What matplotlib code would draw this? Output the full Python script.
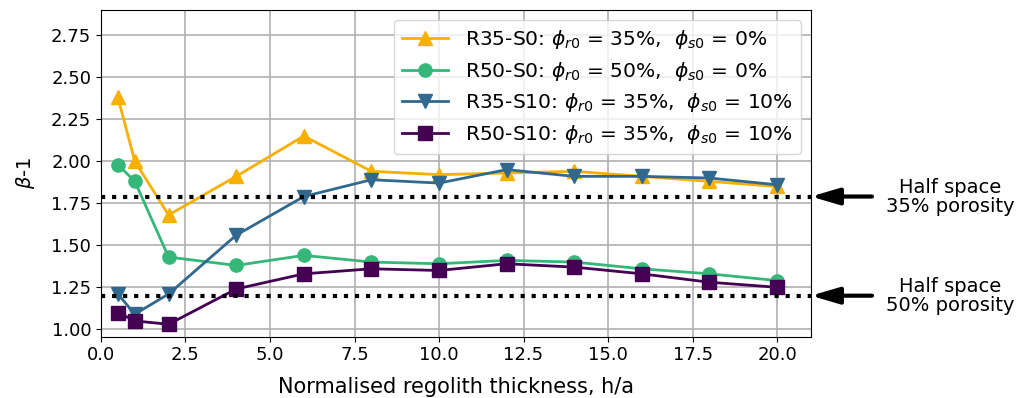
import matplotlib
matplotlib.use("Agg")
from matplotlib import pyplot as plt

thickness = [0.5, 1, 2, 4, 6, 8, 10, 12, 14, 16, 18, 20]
r35_s0 = [2.38, 2.00, 1.68, 1.91, 2.15, 1.94, 1.92, 1.93, 1.94, 1.91, 1.88, 1.85]
r50_s0 = [1.98, 1.88, 1.43, 1.38, 1.44, 1.40, 1.39, 1.41, 1.40, 1.36, 1.33, 1.29]
r35_s10 = [1.21, 1.09, 1.21, 1.56, 1.79, 1.89, 1.87, 1.95, 1.91, 1.91, 1.90, 1.86]
r50_s10 = [1.10, 1.05, 1.03, 1.24, 1.33, 1.36, 1.35, 1.39, 1.37, 1.33, 1.28, 1.25]
half_space = [1.79, 1.20]
half_space_labels = ["Half space\n35% porosity", "Half space\n50% porosity"]

fig = plt.figure(figsize=(10.2, 3.98), dpi=100)
ax = fig.add_axes([0.099, 0.154, 0.696, 0.821])

ax.plot(thickness, r35_s0, c='#f7b000', marker='^', ms=10, lw=2,
        label=r'R35-S0: $\phi_{r0}$ = 35%,  $\phi_{s0}$ = 0%')
ax.plot(thickness, r50_s0, c='#35b779', marker='o', ms=9.5, lw=2,
        label=r'R50-S0: $\phi_{r0}$ = 50%,  $\phi_{s0}$ = 0%')
ax.plot(thickness, r35_s10, c='#31688e', marker='v', ms=10, lw=2,
        label=r'R35-S10: $\phi_{r0}$ = 35%,  $\phi_{s0}$ = 10%')
ax.plot(thickness, r50_s10, c='#440154', marker='s', ms=9.5, lw=2,
        label=r'R50-S10: $\phi_{r0}$ = 35%,  $\phi_{s0}$ = 10%')

for y in half_space:
    ax.axhline(y, c='k', ls=':', lw=3)

# arrows pointing at the half-space levels, outside the axes
for y, txt in zip(half_space, half_space_labels):
    ax.annotate('', xy=(1.0, y), xycoords=('axes fraction', 'data'),
                xytext=(872, y), textcoords=('figure pixels', 'data'),
                arrowprops=dict(arrowstyle='-|>,head_length=1.7,head_width=0.5',
                                color='k', lw=3, mutation_scale=10,
                                shrinkA=0, shrinkB=0))
    ax.annotate(txt, xy=(950, y), xycoords=('figure pixels', 'data'),
                ha='center', va='center', fontsize=14, linespacing=1.0,
                annotation_clip=False)

ax.set_xlim(0, 21)
ax.set_ylim(0.956, 2.90)
ax.set_yticks([1.0, 1.25, 1.5, 1.75, 2.0, 2.25, 2.5, 2.75])
ax.tick_params(labelsize=13)
ax.grid(True, lw=1.2, c='#b0b0b0')
ax.set_xlabel("Normalised regolith thickness, h/a", fontsize=15, labelpad=9)
ax.set_ylabel(r"$\beta$-1", fontsize=14, labelpad=10)
ax.legend(loc='upper right', fontsize=14.6, handlelength=2.3, labelspacing=0.42)

fig.savefig("out.png")
